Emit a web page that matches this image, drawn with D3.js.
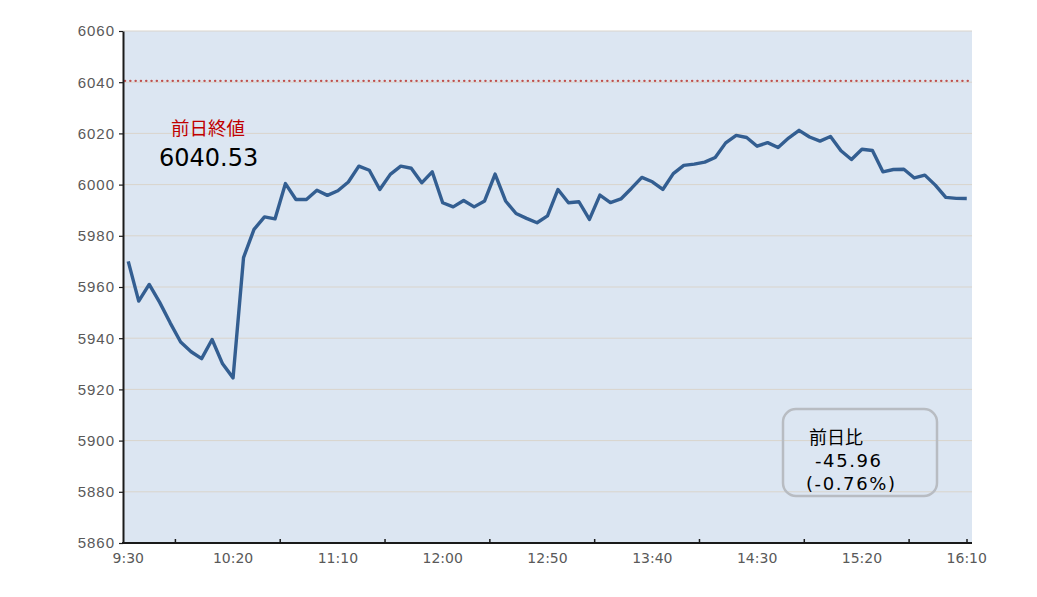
<!DOCTYPE html>
<html>
<head>
<meta charset="utf-8">
<script src="https://cdn.jsdelivr.net/npm/d3@7"></script>
<style>
  body { margin: 0; background: #fff; }
  svg { font-family: "DejaVu Sans", "Noto Sans CJK JP", sans-serif; }
</style>
</head>
<body>
<div id="chart"></div>
<script>
var times = ['9:30','9:35','9:40','9:45','9:50','9:55','10:00','10:05','10:10','10:15',
  '10:20','10:25','10:30','10:35','10:40','10:45','10:50','10:55','11:00','11:05',
  '11:10','11:15','11:20','11:25','11:30','11:35','11:40','11:45','11:50','11:55',
  '12:00','12:05','12:10','12:15','12:20','12:25','12:30','12:35','12:40','12:45',
  '12:50','12:55','13:00','13:05','13:10','13:15','13:20','13:25','13:30','13:35',
  '13:40','13:45','13:50','13:55','14:00','14:05','14:10','14:15','14:20','14:25',
  '14:30','14:35','14:40','14:45','14:50','14:55','15:00','15:05','15:10','15:15',
  '15:20','15:25','15:30','15:35','15:40','15:45','15:50','15:55','16:00','16:05',
  '16:10'];

var prices = [5970, 5954.5, 5961, 5954, 5946, 5938.5, 5934.7, 5932, 5939.5, 5930,
  5924.5, 5971.5, 5982.5, 5987.4, 5986.6, 6000.4, 5994.2, 5994.2, 5997.8, 5995.8,
  5997.6, 6001, 6007.2, 6005.6, 5998.1, 6004, 6007.2, 6006.4, 6000.7, 6005,
  5992.9, 5991.3, 5993.8, 5991.3, 5993.6, 6004.1, 5993.6, 5988.7, 5986.8, 5985.1,
  5987.8, 5998.1, 5992.9, 5993.3, 5986.4, 5995.9, 5993, 5994.4, 5998.5, 6002.8,
  6001.1, 5998.1, 6004.3, 6007.5, 6008, 6008.8, 6010.6, 6016.3, 6019.2, 6018.4,
  6015, 6016.4, 6014.5, 6018.2, 6021.2, 6018.6, 6017, 6018.8, 6013.2, 6009.8,
  6013.8, 6013.3, 6005, 6005.9, 6006, 6002.6, 6003.7, 5999.8, 5995, 5994.6,
  5994.57];

var xLabels = ['9:30','10:20','11:10','12:00','12:50','13:40','14:30','15:20','16:10'];
var xTickAt = ['9:55','10:45','11:35','12:25','13:15','14:05','14:55','15:45'];
var yTicks = [5860, 5880, 5900, 5920, 5940, 5960, 5980, 6000, 6020, 6040, 6060];
var prevClose = 6040.53;
var prevCloseLabel = '前日終値';
var changeLabel = ['前日比', '-45.96', '(-0.76%)'];

var W = 1037, H = 597;
var margin = {top: 31, right: 65, bottom: 54, left: 123},
    width = W - margin.left - margin.right,
    height = H - margin.top - margin.bottom;

var svg = d3.select('#chart').append('svg')
    .attr('width', W).attr('height', H)
    .append('g')
    .attr('transform', 'translate(' + margin.left + ',' + margin.top + ')');

var x = d3.scaleBand().domain(times).range([0, width]);
var y = d3.scaleLinear().domain([5860, 6060]).range([height, 0]);
var cx = function(t) { return x(t) + x.bandwidth() / 2; };

// plot background
svg.append('rect')
    .attr('width', width).attr('height', height)
    .attr('fill', '#dce6f2');

// gridlines
svg.selectAll('.grid').data(yTicks.slice(1)).enter()
    .append('line')
    .attr('x1', 0).attr('x2', width)
    .attr('y1', function(d) { return y(d); })
    .attr('y2', function(d) { return y(d); })
    .attr('stroke', '#d9d4cc').attr('stroke-width', 1);

// previous close dotted line
svg.append('line')
    .attr('x1', 2).attr('x2', width)
    .attr('y1', y(prevClose)).attr('y2', y(prevClose))
    .attr('stroke', '#c0504d').attr('stroke-width', 2.4)
    .attr('stroke-linecap', 'round')
    .attr('stroke-dasharray', '0.1,5.2');

// y axis
var yAxis = svg.append('g')
    .call(d3.axisLeft(y).tickValues(yTicks).tickSize(4).tickSizeOuter(0).tickFormat(d3.format('d')));
yAxis.select('.domain').attr('stroke', '#1a1a1a').attr('stroke-width', 2);
yAxis.selectAll('.tick line').attr('stroke', '#1a1a1a').attr('stroke-width', 1.2);
yAxis.selectAll('.tick text')
    .attr('x', -8).attr('fill', '#595959')
    .style('font-size', '15px').style('letter-spacing', '1px');

// x axis
var xg = svg.append('g').attr('transform', 'translate(0,' + height + ')');
xg.append('line').attr('x1', -1).attr('x2', width).attr('stroke', '#1a1a1a').attr('stroke-width', 2.2);
xg.selectAll('.xt').data(xTickAt).enter()
    .append('line')
    .attr('x1', function(d) { return x(d); }).attr('x2', function(d) { return x(d); })
    .attr('y1', 0).attr('y2', -4)
    .attr('stroke', '#1a1a1a').attr('stroke-width', 1.5);
xg.append('line')
    .attr('x1', width - 5).attr('x2', width - 5).attr('y1', 0).attr('y2', -4)
    .attr('stroke', '#1a1a1a').attr('stroke-width', 1.5);
xg.selectAll('.xl').data(xLabels).enter()
    .append('text')
    .attr('x', function(d) { return cx(d); })
    .attr('y', 20)
    .attr('text-anchor', 'middle')
    .attr('fill', '#595959')
    .style('font-size', '14px')
    .text(function(d) { return d; });

// price line
var line = d3.line()
    .x(function(d, i) { return cx(times[i]); })
    .y(function(d) { return y(d); });
svg.append('path')
    .datum(prices)
    .attr('d', line)
    .attr('fill', 'none')
    .attr('stroke', '#335e91')
    .attr('stroke-width', 3.4)
    .attr('stroke-linejoin', 'round');

// previous close label
svg.append('text')
    .attr('x', 48).attr('y', 104)
    .attr('fill', '#c00000')
    .style('font-family', '"Noto Sans CJK JP", sans-serif')
    .style('font-size', '18.5px')
    .text(prevCloseLabel);
svg.append('text')
    .attr('x', 36).attr('y', 135)
    .attr('fill', '#000')
    .style('font-size', '24px')
    .text(d3.format('.2f')(prevClose));

// change box
svg.append('rect')
    .attr('x', 660).attr('y', 378)
    .attr('width', 154).attr('height', 87)
    .attr('rx', 13)
    .attr('fill', 'none')
    .attr('stroke', '#b8bcc2')
    .attr('stroke-width', 2.5);
var bx = [686, 692, 683];
var by = [413, 436, 459];
svg.selectAll('.chg').data(changeLabel).enter()
    .append('text')
    .attr('x', function(d, i) { return bx[i]; })
    .attr('y', function(d, i) { return by[i]; })
    .attr('fill', '#000')
    .style('font-family', function(d, i) { return i == 0 ? '"Noto Sans CJK JP", sans-serif' : null; })
    .style('font-size', '18px')
    .style('letter-spacing', function(d, i) { return i == 0 ? null : '1.6px'; })
    .text(function(d) { return d; });
</script>
</body>
</html>
